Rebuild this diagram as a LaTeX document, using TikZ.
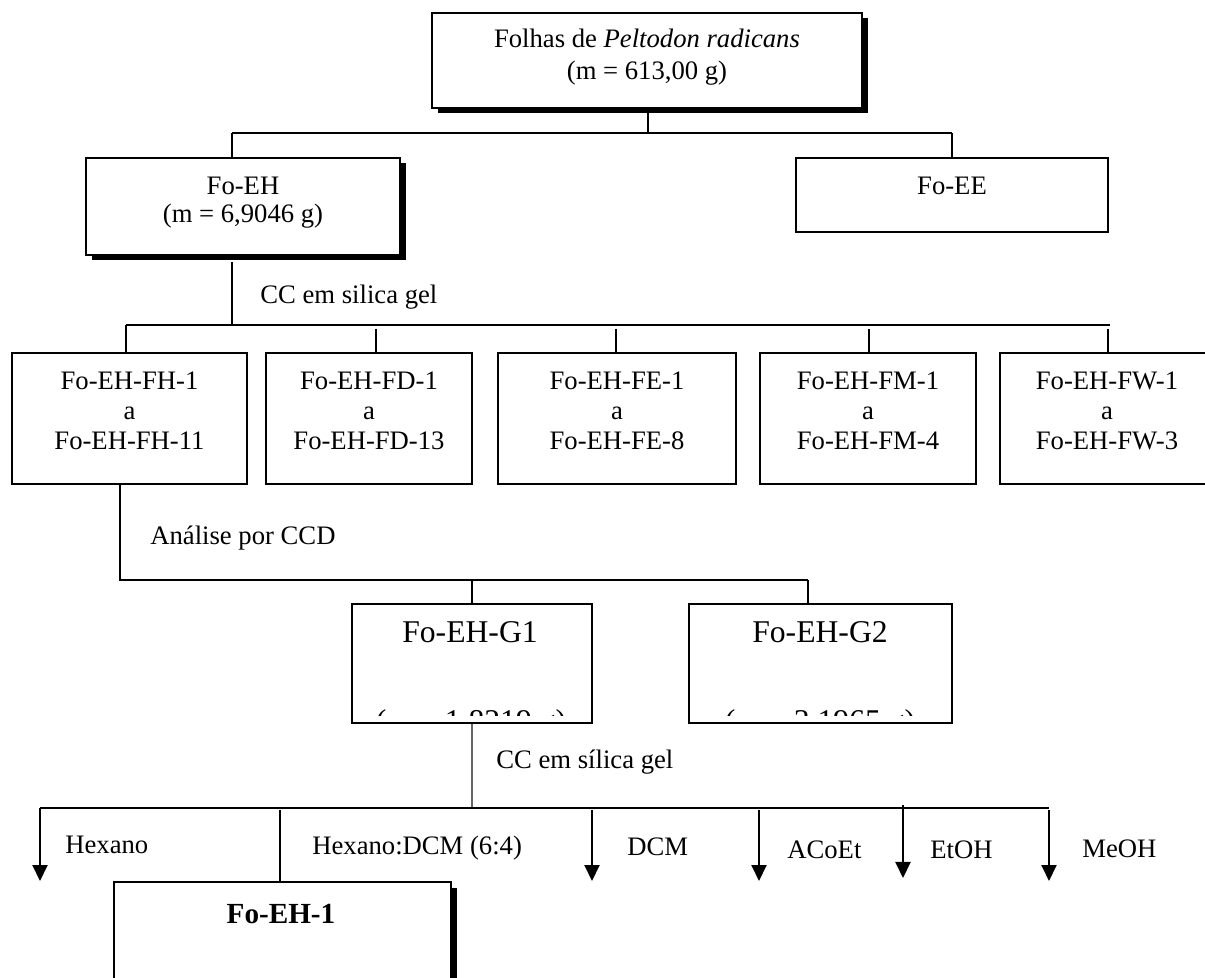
\documentclass[tikz,border=0pt]{standalone}
\usepackage{fontspec}
\setmainfont{Liberation Serif}
\usetikzlibrary{arrows.meta,shadows}
\begin{document}
\begin{tikzpicture}[x=0.6pt,y=-0.6pt,
  ln/.style={line width=1.2pt},
  boxn/.style={draw,line width=1.2pt,fill=white,inner sep=0pt},
  shad/.style={drop shadow={shadow xshift=3.3pt,shadow yshift=-3.3pt,fill=black,opacity=1}},
  lbl/.style={inner sep=0pt,align=center,anchor=base,font=\fontsize{16}{18}\selectfont},
  txt/.style={inner sep=0pt,anchor=base west,font=\fontsize{16}{18}\selectfont},
  big/.style={inner sep=0pt,anchor=base,font=\fontsize{19}{22}\selectfont},
  arr/.style={line width=1.2pt,-{Triangle[width=9pt,length=9.6pt]}}
]
\useasboundingbox (0,0) rectangle (1205,978);
% ---------- level 1 (anchor=base of a multi-line node = baseline of its last line)
\node[boxn,shad,minimum width=430*0.6pt,minimum height=95*0.6pt] (top) at (647,60.5) {};
\node[lbl,font=\fontsize{16}{19.2}\selectfont] (topt) at (647,80)
  {Folhas de \textit{Peltodon radicans}\\(m = 613,00 g)};
\coordinate (j1t) at (648,113);
\coordinate (j1) at (648,133);
\coordinate (jl) at (232,133);
\coordinate (jr) at (952,133);
\node[boxn,shad,minimum width=314*0.6pt,minimum height=97*0.6pt] (eh) at (243,206.5) {};
\node[lbl,font=\fontsize{16}{16.8}\selectfont] (eht) at (243,223) {Fo-EH\\(m = 6,9046 g)};
\node[boxn,minimum width=312*0.6pt,minimum height=74*0.6pt] (ee) at (952,195) {};
\node[lbl] (eet) at (952,195) {Fo-EE};
\draw[ln] (j1t) -- (j1);
\draw[ln] (jl) -- (jr);
\draw[ln] (jl) -- (jl |- eh.north);
\draw[ln] (jr) -- (jr |- ee.north);
% ---------- level 2
\coordinate (j2t) at (232,262);
\coordinate (j2) at (232,325);
\coordinate (j2l) at (126,325);
\coordinate (j2r) at (1110,325);
\draw[ln] (j2t) -- (j2);
\node[txt] (cc1) at (260,304) {CC em silica gel};
\draw[ln] (j2l) -- (j2r);
\node[boxn,minimum width=235*0.6pt,minimum height=131*0.6pt] (b1) at (129.5,418.5) {};
\node[boxn,minimum width=206*0.6pt,minimum height=131*0.6pt] (b2) at (369,418.5) {};
\node[boxn,minimum width=238*0.6pt,minimum height=131*0.6pt] (b3) at (617,418.5) {};
\node[boxn,minimum width=216*0.6pt,minimum height=131*0.6pt] (b4) at (868,418.5) {};
\node[boxn,minimum width=214*0.6pt,minimum height=131*0.6pt] (b5) at (1107,418.5) {};
\node[lbl] (b1t) at (129.5,450) {Fo-EH-FH-1\\a\\Fo-EH-FH-11};
\node[lbl] (b2t) at (369,450) {Fo-EH-FD-1\\a\\Fo-EH-FD-13};
\node[lbl] (b3t) at (617,450) {Fo-EH-FE-1\\a\\Fo-EH-FE-8};
\node[lbl] (b4t) at (868,450) {Fo-EH-FM-1\\a\\Fo-EH-FM-4};
\node[lbl] (b5t) at (1107,450) {Fo-EH-FW-1\\a\\Fo-EH-FW-3};
\draw[ln] (j2l) -- (j2l |- b1.north);
\foreach \xx in {376,616,869,1108}
  \draw[ln] (\xx,329) -- (\xx,353);
% ---------- level 3
\coordinate (j3t) at (120,484);
\coordinate (j3l) at (120,580);
\coordinate (j3r) at (808,580);
\coordinate (j3g) at (472,580);
\draw[ln] (j3t) -- (j3l) -- (j3r);
\node[txt] (ccd) at (150,545) {Análise por CCD};
\node[boxn,minimum width=240*0.6pt,minimum height=119*0.6pt] (g1) at (472,663.5) {};
\node[boxn,minimum width=263*0.6pt,minimum height=119*0.6pt] (g2) at (820.5,663.5) {};
\draw[ln] (j3g) -- (g1.north);
\draw[ln] (j3r) -- (j3r |- g2.north);
\node[big] (g1t) at (470,643) {Fo-EH-G1};
\node[big] (g2t) at (820,643) {Fo-EH-G2};
\begin{scope}
  \clip (352,690) rectangle (952,716);
  \node[big] (g1m) at (471,732) {(m = 1,8219 g)};
  \node[big] (g2m) at (820,732) {(m = 3,1965 g)};
\end{scope}
% ---------- level 4
\coordinate (j4) at (472,808);
\coordinate (j4l) at (40,808);
\coordinate (j4r) at (1049,808);
\draw[line width=1.1pt,black!60] (g1.south) -- (j4);
\node[txt] (cc2) at (496,769) {CC em sílica gel};
\draw[ln] (j4l) -- (j4r);
\node[boxn,shad,minimum width=337*0.6pt,minimum height=118*0.6pt] (f1) at (282.5,941) {};
\node[inner sep=0pt,anchor=base,font=\bfseries\fontsize{17.5}{20}\selectfont] (f1t) at (281,923) {Fo-EH-1};
\coordinate (a1) at (40,881);
\coordinate (s2) at (280,810);
\coordinate (s3) at (592,810);  \coordinate (a3) at (592,881);
\coordinate (s4) at (759,810);  \coordinate (a4) at (759,881);
\coordinate (s5) at (903,805);  \coordinate (a5) at (903,878);
\coordinate (s6) at (1049,810); \coordinate (a6) at (1049,881);
\draw[arr] (j4l) -- (a1);
\draw[line width=1pt] (s2) -- (s2 |- f1.north);
\draw[arr] (s3) -- (a3);
\draw[arr] (s4) -- (a4);
\draw[arr] (s5) -- (a5);
\draw[arr] (s6) -- (a6);
\node[txt] (l1) at (65,853) {Hexano};
\node[txt] (l2) at (312,855) {Hexano:DCM (6:4)};
\node[txt] (l3) at (627,856) {DCM};
\node[txt] (l4) at (787,858) {ACoEt};
\node[txt] (l5) at (930,858) {EtOH};
\node[txt] (l6) at (1082,857) {MeOH};
\end{tikzpicture}
\end{document}
